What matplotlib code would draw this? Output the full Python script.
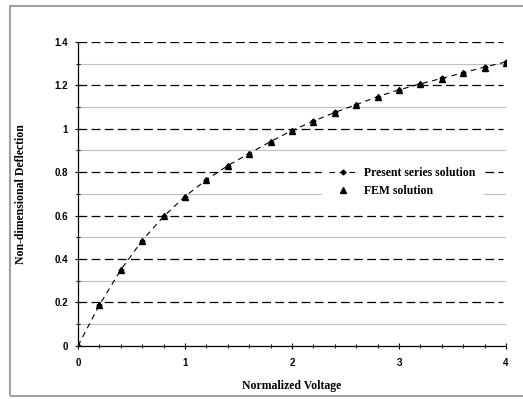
import numpy as np
import matplotlib.pyplot as plt
from matplotlib.patches import Rectangle
from matplotlib.ticker import MultipleLocator

# data
voltage = [0.0, 0.2, 0.4, 0.6, 0.8, 1.0, 1.2, 1.4, 1.6, 1.8, 2.0,
           2.2, 2.4, 2.6, 2.8, 3.0, 3.2, 3.4, 3.6, 3.8, 4.0]
series_defl = [0.0, 0.188, 0.350, 0.485, 0.596, 0.688, 0.765, 0.830, 0.886, 0.941, 0.992,
               1.035, 1.075, 1.111, 1.148, 1.179, 1.207, 1.232, 1.258, 1.284, 1.308]
fem_defl = [0.0, 0.188, 0.350, 0.485, 0.596, 0.688, 0.765, 0.830, 0.886, 0.941, 0.992,
            1.033, 1.073, 1.110, 1.146, 1.177, 1.205, 1.230, 1.256, 1.282, 1.305]

fig = plt.figure(figsize=(5.23, 3.99), dpi=100)
ax = fig.add_axes([0.149, 0.133, 0.8185, 0.762])

# outer chart frame
fig.patches.append(Rectangle((10 / 523, 1 - 396 / 399), 1.0, (396 - 6) / 399,
                             transform=fig.transFigure, fill=False,
                             edgecolor='#a0a0a0', linewidth=1.5))

# gridlines: dashed black at 0.2, light gray at odd tenths
for y in np.arange(0.1, 1.35, 0.2):
    ax.axhline(y, color='#c0c0c0', linewidth=0.8, zorder=1)
for y in np.arange(0.2, 1.45, 0.2):
    ax.plot([0, 3.97], [y, y], color='black', linewidth=0.9, linestyle=(0, (7, 3.5)), zorder=1)

ax.plot(voltage, series_defl, color='black', linewidth=0.8, linestyle=(0, (5, 4)),
        marker='D', markersize=2.5, zorder=3, label='Present series solution')
ax.plot(voltage, fem_defl, linestyle='none', marker='^', color='black',
        markersize=5, zorder=4, label='FEM solution')

ax.set_xlim(0, 4)
ax.set_ylim(0, 1.4)
ax.xaxis.set_minor_locator(MultipleLocator(0.2))
ax.yaxis.set_minor_locator(MultipleLocator(0.1))
ax.tick_params(which='major', direction='inout', length=4, width=0.8, labelsize=7)
ax.tick_params(axis='x', which='major', pad=7)
ax.tick_params(axis='y', which='major', pad=5)
ax.tick_params(which='minor', direction='inout', length=2.5, width=0.8)
ax.set_xticks([0, 1, 2, 3, 4])
ax.set_xticklabels(['0', '1', '2', '3', '4'], fontfamily='Liberation Sans', fontweight='bold')
ax.set_yticks(np.arange(0, 1.41, 0.2))
ax.set_yticklabels(['0', '0.2', '0.4', '0.6', '0.8', '1', '1.2', '1.4'],
                   fontfamily='Liberation Sans', fontweight='bold')

for s in ['top', 'right']:
    ax.spines[s].set_visible(False)
ax.spines['left'].set_linewidth(0.9)
ax.spines['bottom'].set_linewidth(0.9)

ax.set_xlabel('Normalized Voltage', fontfamily='Liberation Serif', fontweight='bold',
              fontsize=8.5, labelpad=8)
ax.set_ylabel('Non-dimensional Deflection', fontfamily='Liberation Serif', fontweight='bold',
              fontsize=8.5, labelpad=20)

leg = ax.legend(loc='upper left', bbox_to_anchor=(0.57, 0.612), borderaxespad=0,
                frameon=True, fancybox=False, edgecolor='white', framealpha=1.0,
                handlelength=2.4, handletextpad=0.6, labelspacing=0.5, borderpad=0.6,
                prop={'family': 'Liberation Serif', 'weight': 'bold', 'size': 8.5})

fig.savefig('out.png', dpi=100)
